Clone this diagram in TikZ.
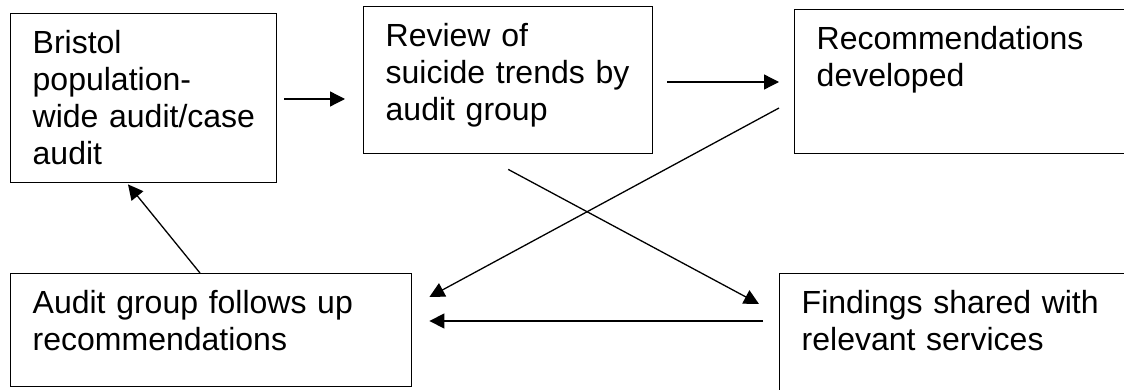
\documentclass[tikz,border=0pt]{standalone}
\usepackage{fontspec}
\setmainfont{Liberation Sans}
\usetikzlibrary{arrows.meta}

\begin{document}
\begin{tikzpicture}[
  x=0.5pt, y=-0.5pt,
  box/.style={draw, line width=0.7pt, anchor=north west, inner sep=0pt, align=left,
    text height=20pt, font=\fontsize{16pt}{18.4pt}\selectfont,
    execute at begin node={\leftskip=11pt}},
  arr/.style={-{Triangle[length=7.5pt, width=7.5pt]}, line width=0.65pt}
]
  \useasboundingbox (0,0) rectangle (1124,390);
  \node[box, text width=133pt, text depth=64.5pt] (audit) at (10,13) {Bristol\\population-\\wide audit/case\\audit};
  \node[box, text width=144.5pt, text depth=53.5pt] (review) at (363,6) {Review of\\suicide trends by\\audit group};
  \node[box, text width=183pt, text depth=52pt] (recs) at (794,9) {Recommendations\\developed};
  \node[box, text width=200.5pt, text depth=36.5pt] (follow) at (10,273) {Audit group follows up\\recommendations};
  \node[box, text width=190.5pt, text depth=50pt] (shared) at (779,273) {Findings shared with\\relevant services};
  \draw[arr] ([shift={(7,86)}]audit.north east) -- ([shift={(-18,93)}]review.north west);
  \draw[arr] ([shift={(14,76)}]review.north east) -- ([shift={(-15,73)}]recs.north west);
  \draw[arr] ([shift={(-15,99)}]recs.north west) -- ([shift={(17,24)}]follow.north east);
  \draw[arr] ([shift={(0,15)}]review.south) -- ([shift={(-20,31)}]shared.north west);
  \draw[arr] ([shift={(-16,48)}]shared.north west) -- ([shift={(17,48)}]follow.north east);
  \draw[arr] ([shift={(190,0)}]follow.north west) -- ([shift={(118,1)}]audit.south west);
\end{tikzpicture}
\end{document}
